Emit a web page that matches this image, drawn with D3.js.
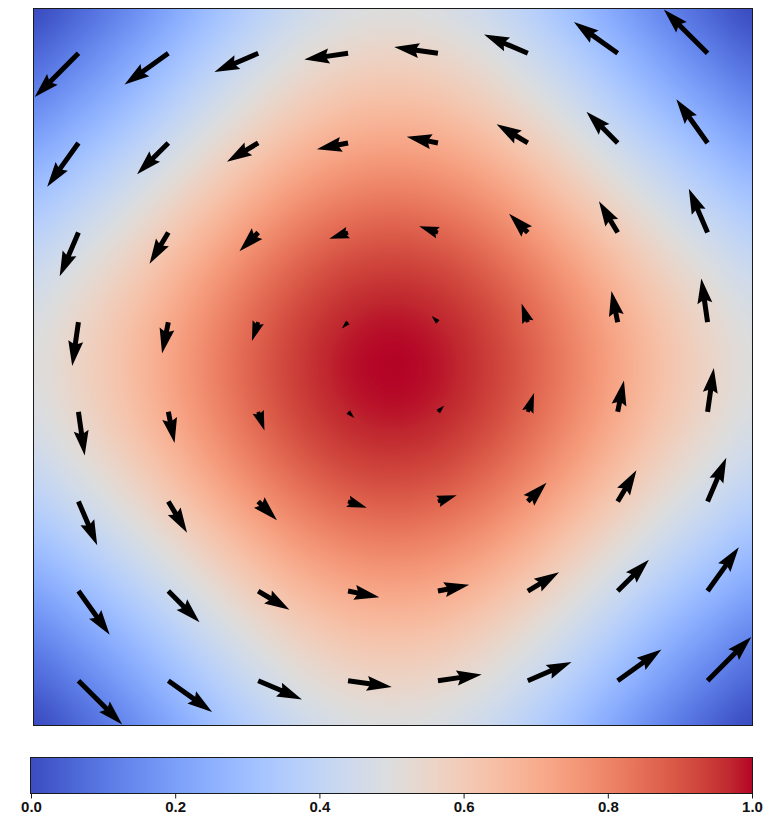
<!DOCTYPE html>
<html>
<head>
<meta charset="utf-8">
<script src="https://cdn.jsdelivr.net/npm/d3@7"></script>
<style>
  html, body { margin: 0; padding: 0; background: #ffffff; }
  svg { display: block; }
</style>
</head>
<body>
<svg id="chart" width="767" height="820"></svg>
<script>
// ---- data -------------------------------------------------------------
// node coordinates of the scalar field (same along x and y)
const gridNodes = [-4, -3.5, -3, -2.5, -2, -1.5, -1, -0.5, 0, 0.5, 1, 1.5, 2, 2.5, 3, 3.5, 4];

// scalar field values at the nodes, top row (y = 4) first, left to right
const fieldValues = [
  [0.000, 0.063, 0.137, 0.219, 0.303, 0.381, 0.444, 0.486, 0.500, 0.486, 0.444, 0.381, 0.303, 0.219, 0.137, 0.063, 0.000],
  [0.063, 0.125, 0.200, 0.282, 0.365, 0.443, 0.507, 0.548, 0.563, 0.548, 0.507, 0.443, 0.365, 0.282, 0.200, 0.125, 0.063],
  [0.137, 0.200, 0.274, 0.356, 0.440, 0.518, 0.581, 0.623, 0.637, 0.623, 0.581, 0.518, 0.440, 0.356, 0.274, 0.200, 0.137],
  [0.219, 0.282, 0.356, 0.438, 0.522, 0.600, 0.663, 0.705, 0.719, 0.705, 0.663, 0.600, 0.522, 0.438, 0.356, 0.282, 0.219],
  [0.303, 0.365, 0.440, 0.522, 0.605, 0.683, 0.747, 0.788, 0.803, 0.788, 0.747, 0.683, 0.605, 0.522, 0.440, 0.365, 0.303],
  [0.381, 0.443, 0.518, 0.600, 0.683, 0.761, 0.825, 0.866, 0.881, 0.866, 0.825, 0.761, 0.683, 0.600, 0.518, 0.443, 0.381],
  [0.444, 0.507, 0.581, 0.663, 0.747, 0.825, 0.888, 0.930, 0.944, 0.930, 0.888, 0.825, 0.747, 0.663, 0.581, 0.507, 0.444],
  [0.486, 0.548, 0.623, 0.705, 0.788, 0.866, 0.930, 0.971, 0.986, 0.971, 0.930, 0.866, 0.788, 0.705, 0.623, 0.548, 0.486],
  [0.500, 0.563, 0.637, 0.719, 0.803, 0.881, 0.944, 0.986, 1.000, 0.986, 0.944, 0.881, 0.803, 0.719, 0.637, 0.563, 0.500],
  [0.486, 0.548, 0.623, 0.705, 0.788, 0.866, 0.930, 0.971, 0.986, 0.971, 0.930, 0.866, 0.788, 0.705, 0.623, 0.548, 0.486],
  [0.444, 0.507, 0.581, 0.663, 0.747, 0.825, 0.888, 0.930, 0.944, 0.930, 0.888, 0.825, 0.747, 0.663, 0.581, 0.507, 0.444],
  [0.381, 0.443, 0.518, 0.600, 0.683, 0.761, 0.825, 0.866, 0.881, 0.866, 0.825, 0.761, 0.683, 0.600, 0.518, 0.443, 0.381],
  [0.303, 0.365, 0.440, 0.522, 0.605, 0.683, 0.747, 0.788, 0.803, 0.788, 0.747, 0.683, 0.605, 0.522, 0.440, 0.365, 0.303],
  [0.219, 0.282, 0.356, 0.438, 0.522, 0.600, 0.663, 0.705, 0.719, 0.705, 0.663, 0.600, 0.522, 0.438, 0.356, 0.282, 0.219],
  [0.137, 0.200, 0.274, 0.356, 0.440, 0.518, 0.581, 0.623, 0.637, 0.623, 0.581, 0.518, 0.440, 0.356, 0.274, 0.200, 0.137],
  [0.063, 0.125, 0.200, 0.282, 0.365, 0.443, 0.507, 0.548, 0.563, 0.548, 0.507, 0.443, 0.365, 0.282, 0.200, 0.125, 0.063],
  [0.000, 0.063, 0.137, 0.219, 0.303, 0.381, 0.444, 0.486, 0.500, 0.486, 0.444, 0.381, 0.303, 0.219, 0.137, 0.063, 0.000]
];

// vector field sample positions
const arrowX = [-3.5, -2.5, -1.5, -0.5, 0.5, 1.5, 2.5, 3.5];
const arrowY = [3.5, 2.5, 1.5, 0.5, -0.5, -1.5, -2.5, -3.5];

// vector components, one row per arrowY entry
const arrowU = [
  [-3.5, -3.5, -3.5, -3.5, -3.5, -3.5, -3.5, -3.5],
  [-2.5, -2.5, -2.5, -2.5, -2.5, -2.5, -2.5, -2.5],
  [-1.5, -1.5, -1.5, -1.5, -1.5, -1.5, -1.5, -1.5],
  [-0.5, -0.5, -0.5, -0.5, -0.5, -0.5, -0.5, -0.5],
  [ 0.5,  0.5,  0.5,  0.5,  0.5,  0.5,  0.5,  0.5],
  [ 1.5,  1.5,  1.5,  1.5,  1.5,  1.5,  1.5,  1.5],
  [ 2.5,  2.5,  2.5,  2.5,  2.5,  2.5,  2.5,  2.5],
  [ 3.5,  3.5,  3.5,  3.5,  3.5,  3.5,  3.5,  3.5]
];
const arrowV = [
  [-3.5, -2.5, -1.5, -0.5, 0.5, 1.5, 2.5, 3.5],
  [-3.5, -2.5, -1.5, -0.5, 0.5, 1.5, 2.5, 3.5],
  [-3.5, -2.5, -1.5, -0.5, 0.5, 1.5, 2.5, 3.5],
  [-3.5, -2.5, -1.5, -0.5, 0.5, 1.5, 2.5, 3.5],
  [-3.5, -2.5, -1.5, -0.5, 0.5, 1.5, 2.5, 3.5],
  [-3.5, -2.5, -1.5, -0.5, 0.5, 1.5, 2.5, 3.5],
  [-3.5, -2.5, -1.5, -0.5, 0.5, 1.5, 2.5, 3.5],
  [-3.5, -2.5, -1.5, -0.5, 0.5, 1.5, 2.5, 3.5]
];

const colorbarTicks = [0.0, 0.2, 0.4, 0.6, 0.8, 1.0];
const colorbarLabels = ["0.0", "0.2", "0.4", "0.6", "0.8", "1.0"];

// ---- colour map (diverging cool-warm, 33 control points) ----------------
const coolwarmStops = [
  [0.2298057, 0.298717966, 0.753683153], [0.26623388, 0.353094838, 0.801466763],
  [0.30386891, 0.406535296, 0.84495867], [0.342804478, 0.458757618, 0.883725899],
  [0.38301334, 0.50941904, 0.917387822], [0.424369608, 0.558148092, 0.945619588],
  [0.46666708, 0.604562568, 0.968154911], [0.509635204, 0.648280772, 0.98478814],
  [0.552953156, 0.688929332, 0.995375608], [0.596262162, 0.726149107, 0.999836203],
  [0.639176211, 0.759599947, 0.998151185], [0.681291281, 0.788964712, 0.990363227],
  [0.722193294, 0.813952739, 0.976574709], [0.761464949, 0.834302879, 0.956945269],
  [0.798691636, 0.849786142, 0.931688648], [0.833466556, 0.860207984, 0.901068838],
  [0.865395197, 0.86541021, 0.865395561], [0.897787179, 0.848937047, 0.820880546],
  [0.924127593, 0.827384882, 0.774508472], [0.944468518, 0.800927443, 0.726736146],
  [0.958852946, 0.769767752, 0.678007945], [0.96732803, 0.734132809, 0.628751763],
  [0.969954137, 0.694266682, 0.579375448], [0.966811177, 0.650421156, 0.530263762],
  [0.958003065, 0.602842431, 0.481775914], [0.943660866, 0.551750968, 0.434243684],
  [0.923944917, 0.49730856, 0.387970225], [0.89904617, 0.439559467, 0.343229596],
  [0.869186849, 0.378313092, 0.300267182], [0.834620542, 0.312874446, 0.259301199],
  [0.795631745, 0.24128379, 0.220525627], [0.752534934, 0.157246067, 0.184115123],
  [0.705673158, 0.01555616, 0.150232812]
];
const stopColors = coolwarmStops.map(c => d3.rgb(c[0] * 255, c[1] * 255, c[2] * 255));
const colorScale = d3.scaleLinear()
  .domain(stopColors.map((_, i) => i / (stopColors.length - 1)))
  .range(stopColors)
  .interpolate(d3.interpolateRgb)
  .clamp(true);

// lookup table for per-pixel colouring
const LUT_N = 1024;
const lut = new Uint8ClampedArray(LUT_N * 3);
for (let k = 0; k < LUT_N; k++) {
  const c = d3.rgb(colorScale(k / (LUT_N - 1)));
  lut[k * 3] = c.r; lut[k * 3 + 1] = c.g; lut[k * 3 + 2] = c.b;
}

// ---- layout -----------------------------------------------------------
const plot = { left: 33.5, right: 752.5, top: 8.5, bottom: 725.5 };
const cbar = { left: 30.5, right: 752.5, top: 757.5, bottom: 793.5 };

const x = d3.scaleLinear().domain([-4, 4]).range([plot.left, plot.right]);
const y = d3.scaleLinear().domain([-4, 4]).range([plot.bottom, plot.top]);

const svg = d3.select("#chart");

// ---- heat map (bicubic resampling of the node grid) ---------------------
const colIndex = d3.scaleLinear().domain([gridNodes[0], gridNodes[gridNodes.length - 1]]).range([0, gridNodes.length - 1]);
const rowIndex = d3.scaleLinear().domain([gridNodes[gridNodes.length - 1], gridNodes[0]]).range([0, gridNodes.length - 1]);

function cubicWeights(t) {
  const t2 = t * t, t3 = t2 * t;
  return [
    -0.5 * t3 + t2 - 0.5 * t,
     1.5 * t3 - 2.5 * t2 + 1,
    -1.5 * t3 + 2 * t2 + 0.5 * t,
     0.5 * t3 - 0.5 * t2
  ];
}
const nRows = fieldValues.length, nCols = fieldValues[0].length;
function sampleField(ci, ri) {
  const c0 = Math.floor(ci), r0 = Math.floor(ri);
  const wc = cubicWeights(ci - c0), wr = cubicWeights(ri - r0);
  let v = 0;
  for (let a = 0; a < 4; a++) {
    const rr = Math.min(nRows - 1, Math.max(0, r0 - 1 + a));
    const row = fieldValues[rr];
    let s = 0;
    for (let b = 0; b < 4; b++) {
      const cc = Math.min(nCols - 1, Math.max(0, c0 - 1 + b));
      s += wc[b] * row[cc];
    }
    v += wr[a] * s;
  }
  return v;
}

const imgW = Math.round(plot.right - plot.left);
const imgH = Math.round(plot.bottom - plot.top);
const canvas = document.createElement("canvas");
canvas.width = imgW; canvas.height = imgH;
const ctx = canvas.getContext("2d");
const img = ctx.createImageData(imgW, imgH);
for (let py = 0; py < imgH; py++) {
  const ri = rowIndex(y.invert(plot.top + py + 0.5));
  for (let px = 0; px < imgW; px++) {
    const ci = colIndex(x.invert(plot.left + px + 0.5));
    let v = sampleField(ci, ri);
    v = Math.max(0, Math.min(1, v));
    const k = Math.round(v * (LUT_N - 1)) * 3;
    const o = (py * imgW + px) * 4;
    img.data[o] = lut[k]; img.data[o + 1] = lut[k + 1]; img.data[o + 2] = lut[k + 2]; img.data[o + 3] = 255;
  }
}
ctx.putImageData(img, 0, 0);

svg.append("image")
  .attr("x", plot.left).attr("y", plot.top)
  .attr("width", imgW).attr("height", imgH)
  .attr("preserveAspectRatio", "none")
  .attr("href", canvas.toDataURL());

// ---- quiver arrows ------------------------------------------------------
const arrowLen = d3.scaleLinear().domain([0, 1]).range([0, 12.5]); // px per vector unit
const shaftW = 5;
const headWidth = 3, headLength = 5, headAxisLength = 4.5, minShaft = 1;

function arrowPolygon(L) {
  const w = shaftW;
  const minsh = minShaft * headLength * w;
  if (L >= minsh) {
    return [
      [0, 0.5 * w], [L - headAxisLength * w, 0.5 * w], [L - headLength * w, 0.5 * headWidth * w],
      [L, 0], [L - headLength * w, -0.5 * headWidth * w], [L - headAxisLength * w, -0.5 * w], [0, -0.5 * w]
    ];
  }
  const s = L / minsh;
  const xs = [0, minsh - headAxisLength * w, minsh - headLength * w, minsh, minsh - headLength * w, minsh - headAxisLength * w, 0];
  const ys = [0.5 * w, 0.5 * w, 0.5 * headWidth * w, 0, -0.5 * headWidth * w, -0.5 * w, -0.5 * w];
  return xs.map((xx, i) => [xx * s, ys[i] * s]);
}

const arrows = [];
arrowY.forEach((yy, j) => {
  arrowX.forEach((xx, i) => {
    arrows.push({ x: xx, y: yy, u: arrowU[j][i], v: arrowV[j][i] });
  });
});

svg.append("g").attr("class", "quiver")
  .selectAll("polygon")
  .data(arrows)
  .join("polygon")
  .attr("points", d => arrowPolygon(arrowLen(Math.hypot(d.u, d.v))).map(p => p.join(",")).join(" "))
  .attr("transform", d => {
    const ang = Math.atan2(-d.v, d.u) * 180 / Math.PI;
    return `translate(${x(d.x)},${y(d.y)}) rotate(${ang})`;
  })
  .attr("fill", "#000000");

// frame around the plot
svg.append("rect")
  .attr("x", plot.left).attr("y", plot.top)
  .attr("width", plot.right - plot.left).attr("height", plot.bottom - plot.top)
  .attr("fill", "none").attr("stroke", "#1a1a1a").attr("stroke-width", 1);

// ---- colour bar ---------------------------------------------------------
const grad = svg.append("defs").append("linearGradient")
  .attr("id", "cbarGrad").attr("x1", "0%").attr("x2", "100%").attr("y1", "0%").attr("y2", "0%");
grad.selectAll("stop")
  .data(stopColors)
  .join("stop")
  .attr("offset", (_, i) => `${(100 * i) / (stopColors.length - 1)}%`)
  .attr("stop-color", d => d.formatHex());

svg.append("rect")
  .attr("x", cbar.left).attr("y", cbar.top)
  .attr("width", cbar.right - cbar.left).attr("height", cbar.bottom - cbar.top)
  .attr("fill", "url(#cbarGrad)")
  .attr("stroke", "#1a1a1a").attr("stroke-width", 1);

const cx = d3.scaleLinear().domain([0, 1]).range([cbar.left + 0.5, cbar.right - 0.5]);
const cAxis = d3.axisBottom(cx)
  .tickValues(colorbarTicks)
  .tickFormat((d, i) => colorbarLabels[i])
  .tickSize(5)
  .tickPadding(3);

const axisG = svg.append("g")
  .attr("transform", `translate(0,${cbar.bottom})`)
  .call(cAxis);
axisG.select(".domain").remove();
axisG.selectAll(".tick line").attr("stroke", "#1a1a1a").attr("stroke-width", 1);
axisG.selectAll(".tick text")
  .attr("fill", "#111111")
  .style("font-family", "'Liberation Sans', Arial, sans-serif")
  .style("font-weight", "bold")
  .style("font-size", "15px");
</script>
</body>
</html>
